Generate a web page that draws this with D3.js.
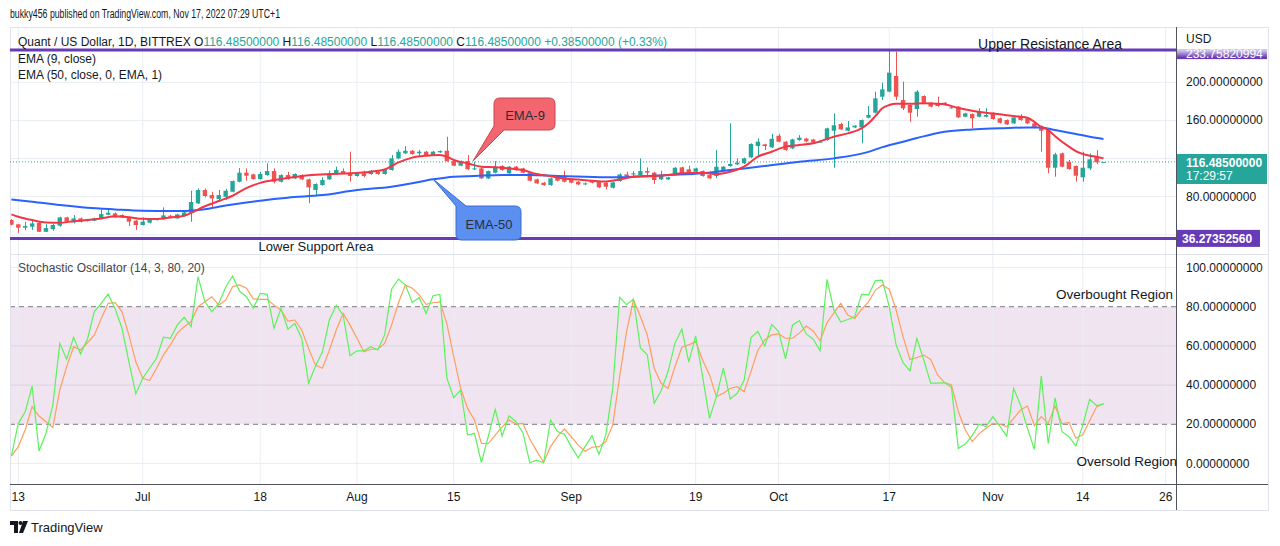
<!DOCTYPE html>
<html><head><meta charset="utf-8">
<script src="https://cdn.jsdelivr.net/npm/d3@7"></script>
<style>
html,body{margin:0;padding:0;background:#fff;}
svg{display:block;font-family:"Liberation Sans",Arial,sans-serif;}
</style></head>
<body>
<svg id="c" width="1280" height="546"></svg>
<script>
// ---------- DATA ----------
const startDay = "2022-06-12";
const opens = [55.5,51,47.5,48.5,52.7,43.2,46,49.5,58.3,53.1,57.2,54.5,54.8,57.2,61.1,62.5,60.8,58.3,54.8,50.3,52.7,55.5,56.2,60,57.2,59.7,63.2,73,87,81.7,77.5,79.9,85.2,95.7,105.2,103.4,98.5,102.7,106.9,95.7,102.7,99.2,102.7,98.2,87,92.2,98.2,103.8,106.9,105.2,101.7,104.5,103.8,106.2,103.8,108,120.2,125.5,128.2,125.5,127.2,123.7,126.5,128.2,117.4,112.5,117.4,108.7,109.7,99.2,105.2,112.2,104.5,111.5,109.7,105.2,98.2,94.7,92.2,101,101.7,97.5,95.7,92.9,96.4,95.7,94.7,89.4,96.4,103.4,103.4,102.7,106.9,105.2,98.2,98.2,103.4,110.8,108.7,106.2,106.9,102.7,101.7,107.3,112.2,113.9,115,121.3,133.1,134.9,131.8,143.9,137.7,130.7,139.4,141,140,137.3,139.4,149.2,156.2,149.2,152.7,152.7,162.9,168.1,184.9,190.2,206.6,181.4,176.2,172,185.6,178.6,177.9,178.6,173.3,174.4,163.9,166.7,163.9,163.9,168.1,162.2,160.4,156.9,164.6,162.2,156.9,154.1,149.9,110.4,125.5,116.7,112.2,100.3,109.7,121.9,116.485];
const highs = [56.5,51.5,53.7,54.5,53.5,51.3,51.3,59,59,60.7,58,56.8,58,66.7,66.7,63.5,61.5,59,55.5,58.3,57,57,68.8,61,62,64,86.3,88.7,88.7,85.2,87,88,97,110,109.7,104,106.2,115,109.7,103.5,106.2,104.5,103.5,99,94,100.3,107.3,111.5,109.7,127.2,105.2,107.3,108,107,108.7,123.7,129.6,133.1,129,129,128,128,128.5,142.9,118,118,123.7,116.7,110.4,107.5,117.4,113,112.2,112.2,110.4,106,99,95.5,100,101.7,107.3,98.2,96.4,95,97,96.4,95.5,96,104.5,106.2,106.9,120.2,110.8,106,107.3,101,111,111.5,112.5,110.4,107.5,106.2,128.9,112.2,156.9,120.2,121,136,141.2,135.6,146,146,138.4,140.8,144.6,141.7,140.7,138.5,152.4,167.4,157.6,159.4,155,161,175.1,190.2,199.6,233.9,232.2,200.7,177,191.9,186.3,179.3,184.9,179.3,174.5,175.1,168.1,167.4,172.7,172.7,168.8,162.9,161.1,163.9,166.7,162.9,157.6,154.8,150.6,126,126.2,118.5,112.9,127.2,125.5,128.9,116.485];
const lows = [50,42.2,45,45,43,43,44.3,48.5,53,52,53,54,54.3,56.9,60.5,57.8,57.5,49.2,45,49.8,52,55,55.8,57.5,56.8,59.2,53.7,72.3,79.3,69.5,74.7,76.5,84.5,95,96.8,98,98,102,94,95,98,98.5,97.5,73,81.7,91.5,97.5,103,104,95.7,101,100.3,103,103,103,107.3,119.5,124.8,124,122.7,123,123,126,116.7,112,112,108,108,98.5,98.5,104.5,107.3,104,107.3,104.5,96,93.3,91.5,91.5,96,95,94,92.2,92.2,94,89,87.7,88.5,95.7,101,100.3,102,100.3,93.3,97.5,97.5,102.7,104,102.7,105.5,101,98.5,99.5,106.6,111.5,113.2,114.3,120.5,121.3,129,131,137,128.2,130,138.7,137,136.5,136.6,138.7,110.4,149.9,148.5,152,136,162.2,167.4,181.4,189.5,181.4,170.9,158.7,163.9,177.9,173.7,174.4,175.5,172.6,162.5,163.2,151.7,163.2,163.2,160.8,156.9,155.2,156.2,159.7,156.2,151.7,127.2,104.5,101,110.8,108.3,95.7,95.7,108,114.3,116.485];
const closes = [50.6,47.5,49.2,52,43.2,47.1,50.3,58.3,53.8,57.2,53.8,56,57.2,61.8,63.2,58.3,58.3,53.8,50.3,53.8,56.2,56.5,60.4,59,61.4,63.5,74.4,87,80.7,78.2,81.7,86.3,96.4,105.2,102,98.5,103.8,106.9,95.7,102.7,98.5,103.8,98.2,89.8,93.3,97.5,103.8,108,104.5,101.7,104.5,101.7,107.3,103.8,108,120.2,127.2,128.2,124.8,127.2,123.7,127.2,127.9,117.4,112.5,117.4,108.7,109.7,99.2,106.9,111.5,108,111.5,108,105.2,96.8,94,92.2,99.2,96.8,95.7,94.7,92.9,94,94.7,89.8,90.5,95,103.4,101.7,104.5,106.9,105.2,97.5,102.7,100.3,110.4,104.5,103.4,109.7,101.7,99.2,111.5,111.5,114.3,115.7,120.2,135.3,137.7,133.1,140.8,137.7,128.9,140.1,141.9,138,137,137.7,151.7,154.9,150.6,152.7,154.5,160.4,165.7,183.2,192.6,210.1,184.9,172.7,168.1,190.2,178.6,174.4,175.1,176.2,173.7,163.2,167.4,162.2,169.2,165.7,161.5,157.6,155.9,163.2,160.4,156.9,152.4,149.2,110.4,124.4,111.5,109,102,110.4,119.2,116.1,116.485];

const ema9Days = [0,1,3,5,7,9,11,13,15,17,19,21,23,25,26,28,30,32,34,36,38,40,43,46,49,52,54,56,58,60,62,63,64,66,68,70,72,74,76,78,80,82,84,86,88,90,93,95,97,100,102,104,106,108,110,112,114,116,119,121,123,124,125,126,127,128,130,132,134,135,137,139,141,143,145,147,148,149,150,151,153,154,156,157,158];
const ema9Vals = [61.5,59,55.5,53,52.7,54.3,55.5,57.2,59.5,58.5,56.8,56.6,58.3,60,63,70,75.5,81,89,94.5,97.5,99.5,102.5,103.8,104.5,106.2,108.5,116,121,123,123.7,122,118.5,115,111.5,110.8,109.7,108,103.8,101.5,99.2,98,96.8,96,98,101,101.7,102.7,104.5,105,103.8,106.2,111.5,122,127.2,132.5,134.2,136,142.9,146.4,151.7,157,164.5,172.7,176.2,177.5,177.5,177.9,177.5,176.9,173,170.2,168.1,166.4,164.6,162.9,158.5,153,150,143.5,132.5,127.8,123,122,120.2];
const ema50Days = [0,3,7,11,15,19,23,25,26,28,30,32,34,36,38,40,45,50,55,58,61,64,67,71,75,79,83,87,90,95,100,104,109,114,119,124,126,129,131,135,139,143,147,149,151,154,156,158];
const ema50Vals = [77,74.7,71.2,68.4,66.7,65.3,64.9,64.9,65.5,66.8,69.5,71.9,74,75.8,77.5,79,81.7,87,90.5,94,98.2,101,101.7,102.7,102.7,101.7,101,100.3,101,102.7,104.5,108,112.2,116.7,120.2,127,132,137.7,141.5,148.2,150.6,151.7,152.7,152.7,149.9,145.8,142.9,140.5];

const stochK = [3.8,20.5,26.4,39.5,6.4,15.4,29.8,61.3,53.2,64.4,55.9,63.4,77.5,81.7,86.5,79,69,51.9,35.5,43.5,48.6,53.7,64.4,63.9,70.6,74.6,69.8,95.3,82.5,77.4,81.7,89.9,95.7,88,85.1,79.2,86.8,86.3,69,79.2,68.5,71.4,63.8,40.9,49.7,57,73.2,80.8,75.7,55,57.5,57.5,59.6,57.9,65.6,88.9,94.1,91,82.2,84.6,76.6,85.6,86.3,43.5,33.6,37.5,14.5,15.4,0.4,14,27.6,14,24.4,21.3,15.7,0.4,1.7,0.4,22.2,16.3,14.9,8.6,2.9,8.6,14.2,4.6,14.5,38.3,84.8,81,83.9,58.9,55.5,30.7,37.1,46.9,61.3,68.6,51.7,65.1,44.3,23,34.1,48.6,32.9,35.8,42.3,64.2,67.3,60,71,67.3,53.4,70.6,72.9,66.1,63.4,57.5,94,78.3,72.2,73.5,74.9,86.3,86,93.3,93.6,80,60.5,51.4,47.2,63.9,52.8,41,41,41.3,38.8,7.7,9.9,14.2,20,18.8,23.9,19.1,14,38.3,29.8,17.9,7.2,44.6,10.2,33.5,16.2,13.7,8.9,19.6,32.7,29.6,30.3];
const stochD = [3.8,8.6,17.2,29,24.2,21.3,18.4,37.5,49.4,59.6,57.9,61.6,65.5,74,81.7,82.1,77.5,65.5,51.9,43.5,42.3,48.6,55.4,60.5,66.5,69.8,72.4,80,82.5,85.1,80.8,83.4,90.2,91.1,89.4,84,83.7,83.7,80.8,78.3,72.7,73.2,68.1,58.7,50.2,48.6,57.8,68.1,76.6,70.6,63.9,57,58.3,58.3,61.3,70.6,82,91,89.4,86,81.2,82,82.5,71.4,54.4,38.3,28.1,22.2,10.2,10.2,14.5,18.7,22.2,20.1,20.5,12.5,6.3,0.6,8.6,13.7,17.6,13.7,9.4,6.3,8.3,8.6,11.2,19.7,44.3,67.3,83.5,75,65.6,48.6,40.9,38.3,49.4,59.3,60.5,62.2,52.8,45.2,34.1,35.8,38.3,39.2,36.6,46.9,57.8,63,65.6,66.1,63.9,63.9,66.5,70.1,67.6,62.5,71.9,76.9,81.7,75.7,74,78.6,82.5,88.5,91.1,88.9,78.3,64.7,53.1,54.1,55.3,53.1,45.2,41.3,40.1,26.5,17.2,11.2,15.1,18,20.5,20,18.8,23,27.3,29.3,19.3,23.9,20.5,29.3,20.2,21,12.9,14.7,21.8,28.9,30.6];

const timeTickDates = ["2022-06-13","2022-07-01","2022-07-18","2022-08-01","2022-08-15","2022-09-01","2022-09-19","2022-10-01","2022-10-17","2022-11-01","2022-11-14","2022-11-26"];
const timeTickLabels = ["13","Jul","18","Aug","15","Sep","19","Oct","17","Nov","14","26"];
const priceTicks = [200,160,80];
const priceGrid = [40,80,120,160,200];
const stochTicks = [100,80,60,40,20,0];
const resistance = 233.75820994;
const support = 36.27352560;
const lastPrice = 116.485;
const countdown = "17:29:57";

// ---------- LAYOUT ----------
const L = 10, R = 1176, AX = 1268, TOP = 27, SEP = 254, BOT = 484, AXB = 510;
const svg = d3.select("#c");
const parse = d3.utcParse("%Y-%m-%d");
const d0 = parse(startDay);
const dateOf = i => d3.utcDay.offset(d0, i);
const dates = opens.map((_, i) => dateOf(i));

const x = d3.scaleUtc().domain([parse("2022-06-13"), parse("2022-11-26")]).range([18.3, 1165.7]);
const y = d3.scaleLinear().domain([80, 200]).range([196.7, 82.3]);
const ys = d3.scaleLinear().domain([0, 100]).range([463.5, 267.5]);

const defs = svg.append("defs");
defs.append("clipPath").attr("id","cp1").append("rect").attr("x",L).attr("y",TOP).attr("width",R-L).attr("height",SEP-TOP);
defs.append("clipPath").attr("id","cp2").append("rect").attr("x",L).attr("y",SEP).attr("width",R-L).attr("height",BOT-SEP);

svg.append("rect").attr("width",1280).attr("height",546).attr("fill","#fff");

svg.append("rect").attr("x",L).attr("width",R-L).attr("y",ys(80)).attr("height",ys(20)-ys(80)).attr("fill","#f0e4f0");

const gridC = "#e9edf3";
svg.append("g").selectAll("line").data(timeTickDates).join("line")
  .attr("x1",d=>x(parse(d))).attr("x2",d=>x(parse(d))).attr("y1",TOP).attr("y2",BOT)
  .attr("stroke",gridC).attr("stroke-width",1);
svg.append("g").selectAll("line").data(priceGrid).join("line")
  .attr("x1",L).attr("x2",R).attr("y1",d=>y(d)).attr("y2",d=>y(d)).attr("stroke",gridC);
svg.append("g").selectAll("line").data([100,60,40,0]).join("line")
  .attr("x1",L).attr("x2",R).attr("y1",d=>ys(d)).attr("y2",d=>ys(d)).attr("stroke",d=>(d===60||d===40)?"#dcd3e0":gridC);
svg.append("g").selectAll("line").data([80,20]).join("line")
  .attr("x1",L).attr("x2",R).attr("y1",d=>ys(d)).attr("y2",d=>ys(d))
  .attr("stroke","#787b86").attr("stroke-dasharray","5,4");

svg.append("rect").attr("x",L+0.5).attr("y",TOP+0.5).attr("width",AX-L).attr("height",AXB-TOP).attr("fill","none").attr("stroke","#e0e3eb");
svg.append("line").attr("x1",L).attr("x2",AX).attr("y1",SEP+0.5).attr("y2",SEP+0.5).attr("stroke","#e0e3eb");
svg.append("line").attr("x1",R+0.5).attr("x2",R+0.5).attr("y1",TOP).attr("y2",AXB).attr("stroke","#50535e");
svg.append("line").attr("x1",L).attr("x2",AX).attr("y1",BOT+0.5).attr("y2",BOT+0.5).attr("stroke","#50535e");

// ---------- PRICE PANE ----------
const pg = svg.append("g").attr("clip-path","url(#cp1)");
pg.append("line").attr("x1",L).attr("x2",R).attr("y1",y(lastPrice)).attr("y2",y(lastPrice))
  .attr("stroke","#26a69a").attr("stroke-dasharray","1,2").attr("stroke-width",1);

const up = "#26a69a", dn = "#ef5350";
const cg = pg.append("g");
const bw = 4.4;
cg.selectAll("line").data(dates).join("line")
  .attr("x1",(d,i)=>Math.round(x(d))+0.5).attr("x2",(d,i)=>Math.round(x(d))+0.5)
  .attr("y1",(d,i)=>y(highs[i])).attr("y2",(d,i)=>y(lows[i]))
  .attr("stroke",(d,i)=>closes[i]>=opens[i]?up:dn).attr("stroke-width",1);
cg.selectAll("rect").data(dates).join("rect")
  .attr("x",(d,i)=>x(d)-bw/2).attr("width",bw)
  .attr("y",(d,i)=>y(Math.max(opens[i],closes[i])))
  .attr("height",(d,i)=>Math.max(1,Math.abs(y(opens[i])-y(closes[i]))))
  .attr("fill",(d,i)=>closes[i]>=opens[i]?up:dn);

const lineGen = d3.line().x(d=>x(d[0])).y(d=>y(d[1])).curve(d3.curveMonotoneX);
pg.append("path").datum(ema50Days.map((d,i)=>[dateOf(d),ema50Vals[i]]))
  .attr("d",lineGen).attr("fill","none").attr("stroke","#2962ff").attr("stroke-width",2);
pg.append("path").datum(ema9Days.map((d,i)=>[dateOf(d),ema9Vals[i]]))
  .attr("d",lineGen).attr("fill","none").attr("stroke","#f23645").attr("stroke-width",2);

[resistance, support].forEach(v=>{
  svg.append("line").attr("x1",L).attr("x2",R).attr("y1",y(v)).attr("y2",y(v))
    .attr("stroke","#673ab7").attr("stroke-width",3);
});

svg.append("text").attr("x",1050).attr("y",y(resistance)-1).attr("text-anchor","middle")
  .attr("font-size",14).attr("fill","#131722").text("Upper Resistance Area");
svg.append("text").attr("x",316).attr("y",y(support)+13).attr("text-anchor","middle")
  .attr("font-size",13).attr("fill","#131722").text("Lower Support Area");

svg.append("path").attr("d","M500,98 H549 Q555,98 555,104 V124 Q555,130 549,130 H504 L473,161 L494,126 V104 Q494,98 500,98 Z")
  .attr("fill","#f4666f").attr("stroke","#c2474f").attr("stroke-width",1);
svg.append("text").attr("x",525).attr("y",119.5).attr("text-anchor","middle").attr("font-size",13).attr("fill","#2a2e39").text("EMA-9");
svg.append("path").attr("d","M456,206 L433,179 L466,206 H515 Q521,206 521,212 V234 Q521,240 515,240 H462 Q456,240 456,234 Z")
  .attr("fill","#5b8ff0").attr("stroke","#3a6bd4").attr("stroke-width",1);
svg.append("text").attr("x",489).attr("y",228.5).attr("text-anchor","middle").attr("font-size",13).attr("fill","#2a2e39").text("EMA-50");

// ---------- STOCH PANE ----------
const sg = svg.append("g").attr("clip-path","url(#cp2)");
const sLine = vals => d3.line().x((d,i)=>x(dates[i])).y(d=>ys(d))(vals);
sg.append("path").attr("d",sLine(stochD)).attr("fill","none").attr("stroke","#ff9e5e").attr("stroke-width",1.2);
sg.append("path").attr("d",sLine(stochK)).attr("fill","none").attr("stroke","#5cf25c").attr("stroke-width",1.2);

svg.append("text").attr("x",18).attr("y",272).attr("font-size",12).attr("fill","#434651").text("Stochastic Oscillator (14, 3, 80, 20)");
svg.append("text").attr("x",1173).attr("y",299).attr("text-anchor","end").attr("font-size",13.5).attr("fill","#131722").text("Overbought Region");
svg.append("text").attr("x",1177).attr("y",466).attr("text-anchor","end").attr("font-size",13.5).attr("fill","#131722").text("Oversold Region");

// ---------- HEADER ----------
svg.append("text").attr("x",10).attr("y",18).attr("font-size",12).attr("fill","#131722")
  .attr("textLength",270).attr("lengthAdjust","spacingAndGlyphs")
  .text("bukky456 published on TradingView.com, Nov 17, 2022 07:29 UTC+1");
const hdr = svg.append("text").attr("x",18).attr("y",46).attr("font-size",12).attr("fill","#131722");
const fmt = d3.format(".8f");
hdr.append("tspan").text("Quant / US Dollar, 1D, BITTREX  O");
hdr.append("tspan").attr("fill","#26a69a").text(fmt(opens[opens.length-1]));
hdr.append("tspan").text("  H");
hdr.append("tspan").attr("fill","#26a69a").text(fmt(highs[highs.length-1]));
hdr.append("tspan").text("  L");
hdr.append("tspan").attr("fill","#26a69a").text(fmt(lows[lows.length-1]));
hdr.append("tspan").text("  C");
hdr.append("tspan").attr("fill","#26a69a").text(fmt(closes[closes.length-1]));
const chg = closes[closes.length-1]-closes[closes.length-2];
hdr.append("tspan").attr("fill","#26a69a").text("  +"+fmt(chg)+" (+"+(chg/closes[closes.length-2]*100).toFixed(2)+"%)");
svg.append("text").attr("x",18).attr("y",63).attr("font-size",12).attr("fill","#131722").text("EMA (9, close)");
svg.append("text").attr("x",18).attr("y",79).attr("font-size",12).attr("fill","#131722").text("EMA (50, close, 0, EMA, 1)");

// ---------- RIGHT AXIS ----------
const ax = svg.append("g").attr("font-size",12).attr("fill","#131722");
ax.append("text").attr("x",1186).attr("y",43).text("USD");
ax.selectAll("text.p").data(priceTicks).join("text").attr("class","p")
  .attr("x",1186).attr("y",d=>y(d)+4).text(d=>fmt(d));
ax.selectAll("text.s").data(stochTicks).join("text").attr("class","s")
  .attr("x",1186).attr("y",d=>ys(d)+4).text(d=>fmt(d));

// resistance label: upper half hidden under the currency header, fading in
defs.append("clipPath").attr("id","cpR").append("rect").attr("x",R).attr("y",49.5).attr("width",100).attr("height",11);
const rl = svg.append("g").attr("clip-path","url(#cpR)");
rl.append("rect").attr("x",R+1).attr("y",y(resistance)-6).attr("width",90).attr("height",15).attr("fill","#673ab7");
rl.append("text").attr("x",1186).attr("y",y(resistance)+7.5).attr("font-size",12).attr("fill","#fff").text(fmt(resistance));
const gr = defs.append("linearGradient").attr("id","fade").attr("x1",0).attr("x2",0).attr("y1",0).attr("y2",1);
gr.append("stop").attr("offset","0").attr("stop-color","#fff").attr("stop-opacity",0.8);
gr.append("stop").attr("offset","1").attr("stop-color","#fff").attr("stop-opacity",0);
svg.append("rect").attr("x",R+1).attr("y",49.5).attr("width",91).attr("height",8).attr("fill","url(#fade)");

svg.append("rect").attr("x",R+1).attr("y",154).attr("width",90).attr("height",30).attr("fill","#26a69a");
svg.append("text").attr("x",1186).attr("y",166.5).attr("font-size",12).attr("font-weight","bold").attr("fill","#fff").text(fmt(lastPrice));
svg.append("text").attr("x",1186).attr("y",180).attr("font-size",12).attr("fill","#fff").text(countdown);

svg.append("rect").attr("x",R+1).attr("y",y(support)-8.5).attr("width",83).attr("height",17).attr("fill","#673ab7");
svg.append("text").attr("x",1182).attr("y",y(support)+4.5).attr("font-size",12).attr("font-weight","bold").attr("fill","#fff").text(fmt(support));

// ---------- TIME AXIS ----------
svg.append("g").selectAll("text").data(timeTickDates).join("text")
  .attr("x",d=>x(parse(d))).attr("y",501).attr("text-anchor","middle")
  .attr("font-size",12).attr("fill","#131722").text((d,i)=>timeTickLabels[i]);

// ---------- FOOTER LOGO ----------
const lg = svg.append("g").attr("fill","#131722");
lg.append("path").attr("d","M10,521 H18 V533 H14 V525 H10 Z");
lg.append("circle").attr("cx",20.5).attr("cy",523).attr("r",2);
lg.append("path").attr("d","M23,521 H28 L23,533 H19 Z");
svg.append("text").attr("x",31).attr("y",532).attr("font-size",13).attr("fill","#131722").text("TradingView");
</script>
</body></html>
